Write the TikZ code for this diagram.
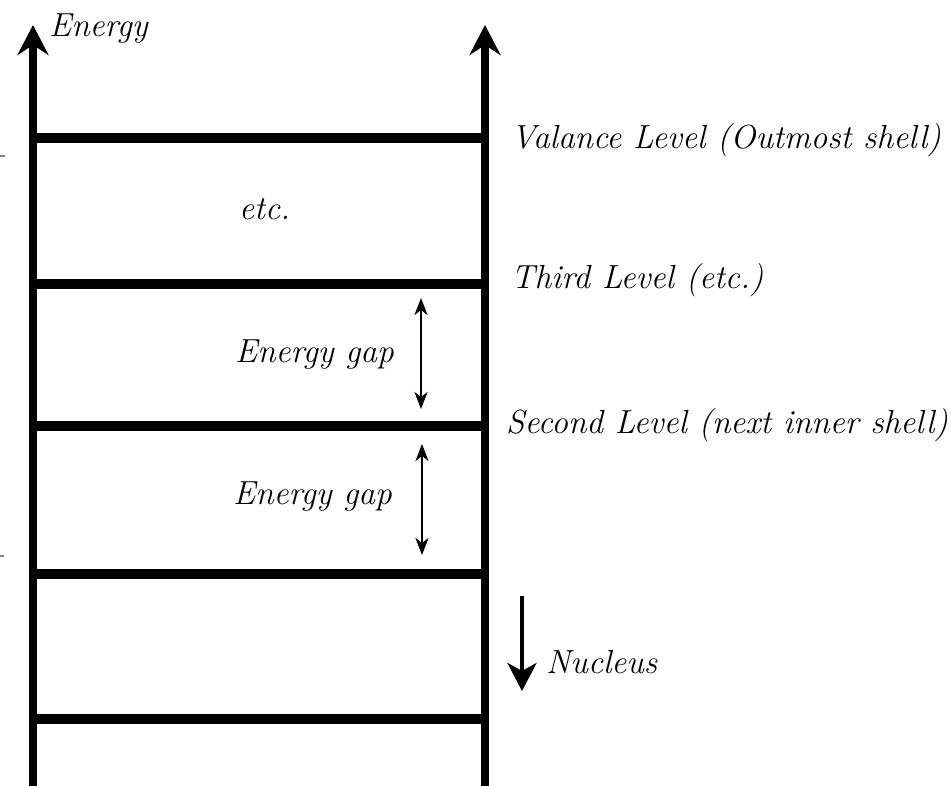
\documentclass[tikz,border=0pt]{standalone}
\usetikzlibrary{arrows.meta}
\begin{document}
\begin{tikzpicture}[x=1pt,y=-1pt,
  lbl/.style={inner sep=0pt,anchor=base west,font=\fontsize{33.4}{40}\selectfont\itshape},
  axis/.style={line width=7.5pt,-{Stealth[length=30pt,width=31pt,inset=10pt]}},
  level/.style={line width=10.5pt},
  gaparrow/.style={line width=2.2pt,{Stealth[length=17pt,width=13pt,inset=5pt]}-{Stealth[length=17pt,width=13pt,inset=5pt]}},
  downarrow/.style={line width=4.5pt,-{Stealth[length=28pt,width=29pt,inset=8pt]}},
  edgemark/.style={draw=gray,line width=1.5pt}]
\useasboundingbox (0,0) rectangle (951,785);
\fill[white] (0,0) rectangle (951,785);

% axis end points
\coordinate (Lb) at (33,786);
\coordinate (Lt) at (33,25);
\coordinate (Rb) at (485,786);
\coordinate (Rt) at (485,25);

% energy levels
\foreach \n/\y in {1/719,2/574,3/426,4/284,5/138}{
  \coordinate (l\n) at (29,\y);
  \coordinate (r\n) at (489,\y);
  \draw[level] (l\n) -- (r\n);
}

% vertical axes
\draw[axis] (Lb) -- (Lt);
\draw[axis] (Rb) -- (Rt);

% labels
\node[lbl] (energy) at (49,36) {Energy};
\node[lbl] (valence) at (511,148) {Valance Level (Outmost shell)};
\node[lbl] (etc) at (239,219) {etc.};
\node[lbl] (third) at (511,288) {Third Level (etc.)};
\node[lbl] (gapA) at (235,362) {Energy gap};
\node[lbl] (second) at (506,433) {Second Level (next inner shell)};
\node[lbl] (gapB) at (233,504) {Energy gap};
\node[lbl] (nucleus) at (546,673) {Nucleus};

% energy gap arrows
\coordinate (gA1) at (421,298);
\coordinate (gA2) at (421,409);
\coordinate (gB1) at (422,444);
\coordinate (gB2) at (422,555);
\draw[gaparrow] (gA1) -- (gA2);
\draw[gaparrow] (gB1) -- (gB2);

% towards the nucleus
\coordinate (n1) at (522,596);
\coordinate (n2) at (522,691);
\draw[downarrow] (n1) -- (n2);

% small marks at the left edge
\coordinate (m1a) at (0,156);
\coordinate (m1b) at (5,156);
\coordinate (m2a) at (0,556);
\coordinate (m2b) at (4,556);
\draw[edgemark] (m1a) -- (m1b);
\draw[edgemark] (m2a) -- (m2b);
\end{tikzpicture}
\end{document}
